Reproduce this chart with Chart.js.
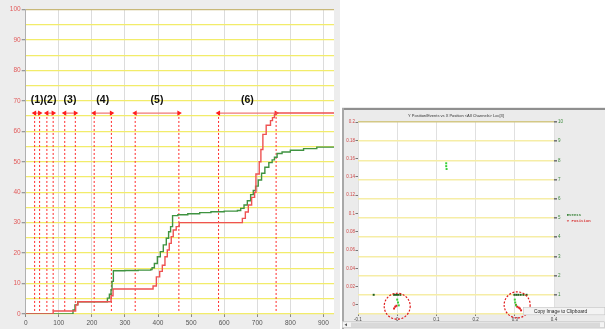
<!DOCTYPE html>
<html><head><meta charset="utf-8">
<script src="https://cdn.jsdelivr.net/npm/chart.js@4.4.1/dist/chart.umd.min.js"></script>
<style>
html,body{margin:0;padding:0;background:#fff;width:605px;height:329px;overflow:hidden}
.box{position:absolute}
</style></head><body>
<div class="box" style="left:0;top:0;width:340px;height:329px"><canvas id="c1" width="340" height="329"></canvas></div>
<div class="box" style="left:342px;top:107px;width:263px;height:222px"><canvas id="c2" width="263" height="222"></canvas></div>
<script>
// ---------- Left chart data (cumulative step curves) ----------
const redX   = [0, 83, 151, 158, 258, 264, 385, 395, 405, 413, 421, 428, 434, 440, 446, 455, 464, 655, 664, 673, 683, 692, 696, 706, 711, 717, 727, 740, 746, 752, 757, 932];
const redY   = [0, 1, 3, 4, 6, 8.2, 9.2, 12.2, 14, 16, 18.8, 21, 23.2, 25.4, 27.6, 28.7, 30, 31.4, 33.5, 35.8, 38.3, 40, 46, 50, 54, 59, 62, 63.5, 64.5, 65.5, 66, 66];
const greenX = [0, 143, 149, 157, 247, 253, 258, 261, 265, 300, 340, 378, 382, 389, 398, 407, 416, 425, 432, 438, 444, 460, 490, 526, 560, 600, 640, 650, 660, 670, 680, 688, 695, 703, 713, 723, 735, 745, 752, 760, 775, 800, 840, 880, 932];
const greenY = [0, 1.3, 3, 4, 5.2, 6.5, 8, 10.7, 14.2, 14.3, 14.4, 14.6, 15.2, 16.6, 18.8, 20.5, 22.7, 24.9, 27, 28.7, 32.3, 32.6, 32.9, 33.3, 33.6, 33.8, 34, 34.7, 35.8, 37.2, 39.2, 40.6, 42, 44, 46.2, 48.2, 49.7, 50.6, 51.5, 52.7, 53.2, 53.8, 54.3, 54.8, 55];
const spanStarts = [27, 64, 118, 207, 331, 583];
const spanEnds   = [42, 83, 150, 259, 463, 757];
const spanLabels = ['(1)', '(2)', '(3)', '(4)', '(5)', '(6)'];
const spanArrowY = 66, spanLineBottom = 1, spanLabelY = 70.3;

// ---------- Right chart data (scatter) ----------
const eventsX = [0.125, 0.125, 0.126, -0.06, -0.008, -0.003, 0.002, 0.008, 0.0, 0.002, 0.004, 0.299, 0.304, 0.309, 0.315, 0.322, 0.33, 0.3, 0.301, 0.303];
const eventsY = [7.85, 7.7, 7.55, 1, 1, 1, 1, 1, 0.75, 0.6, 0.45, 1, 1, 1, 1, 1, 1, 0.75, 0.6, 0.45];
const yposX = [-0.008, -0.005, -0.002, 0.303, 0.306, 0.31, 0.313, 0.316];
const yposY = [-0.004, -0.002, -0.001, 0.0, -0.002, -0.003, -0.004, -0.006];
const circleX = [0, 0.306];
const circleY = [-0.0015, 0];
const rightTitle = 'Y Position/Events vs X Position <All Channels> Loc[3]';
const menuText = 'Copy Image to Clipboard';

Chart.defaults.font.family = '"Liberation Sans", Arial, sans-serif';
const pts = (xs, ys) => xs.map((x, i) => ({x, y: ys[i]}));
const fmt = v => String(+Number(v).toFixed(2));

// ---------- Left chart ----------
const annDatasets = [];
spanStarts.forEach((s, i) => {
  const e = spanEnds[i];
  [s, e].forEach(xv => annDatasets.push({
    data: [{x: xv, y: spanLineBottom}, {x: xv, y: spanArrowY}],
    borderColor: '#ff2b2b', borderWidth: 1, borderDash: [2, 2], pointRadius: 0, order: 2
  }));
  annDatasets.push({
    data: [{x: s, y: spanArrowY}, {x: e, y: spanArrowY}],
    borderColor: '#f07878', borderWidth: 1.3, pointStyle: 'triangle', pointRadius: 3,
    pointRotation: [-90, 90], pointBackgroundColor: '#ff1e1e', pointBorderWidth: 0, order: 1
  });
});

const bgLeft = {
  id: 'bgLeft',
  beforeDraw(chart) {
    const {ctx, chartArea: a, width, height} = chart;
    ctx.save();
    ctx.fillStyle = '#ededed'; ctx.fillRect(0, 0, width, height);
    ctx.fillStyle = '#ffffff'; ctx.fillRect(a.left, a.top, a.right - a.left, a.bottom - a.top);
    ctx.restore();
  },
  afterDatasetsDraw(chart) {
    const {ctx, scales} = chart;
    ctx.save();
    ctx.font = 'bold 10.5px "Liberation Sans", Arial, sans-serif';
    ctx.fillStyle = '#111'; ctx.textAlign = 'center'; ctx.textBaseline = 'middle';
    spanLabels.forEach((t, i) => {
      ctx.fillText(t, scales.x.getPixelForValue((spanStarts[i] + spanEnds[i]) / 2), scales.y.getPixelForValue(spanLabelY));
    });
    ctx.restore();
  }
};

new Chart(document.getElementById('c1'), {
  type: 'line',
  data: {datasets: [
    {label: 'Y Position', data: pts(redX, redY), borderColor: '#ee5252', borderWidth: 1.4, stepped: true, pointRadius: 0, order: 0},
    {label: 'Events', data: pts(greenX, greenY), borderColor: '#3f9341', borderWidth: 1.4, stepped: true, pointRadius: 0, order: 0},
    ...annDatasets
  ]},
  options: {
    responsive: false, animation: false,
    plugins: {legend: {display: false}, tooltip: {enabled: false}},
    layout: {padding: {top: 9.5, right: 6, left: 0, bottom: 0}},
    scales: {
      x: {type: 'linear', min: 0, max: 932,
        ticks: {stepSize: 100, includeBounds: false, font: {size: 6.5}, color: '#555', padding: 2, maxRotation: 0, autoSkip: false},
        grid: {color: '#dcdcdc', tickLength: 3, tickColor: '#888'},
        border: {display: false},
        afterFit(s) { s.height = 15; }},
      y: {min: 0, max: 100,
        ticks: {stepSize: 5, autoSkip: false, callback: v => (v % 10 === 0 ? v : ''), font: {size: 6.5}, color: '#e25a5a', padding: 1},
        grid: {color: c => (c.tick && c.tick.value === 100 ? '#c8b878' : '#f2ec6a'), lineWidth: 1.3, tickLength: 4,
               tickColor: c => (c.tick && c.tick.value % 10 === 0 ? '#999' : 'rgba(0,0,0,0)')},
        border: {color: '#b0b0b0'},
        afterFit(s) { s.width = 25.7; }}
    }
  },
  plugins: [bgLeft]
});

// ---------- Right chart ----------
const deco = {
  id: 'deco',
  beforeDraw(chart) {
    const {ctx, chartArea: a, width, height} = chart;
    ctx.save();
    ctx.fillStyle = '#ebebeb'; ctx.fillRect(0, 0, width, height);
    ctx.fillStyle = '#8f8f8f'; ctx.fillRect(0, 1, width, 2);
    ctx.fillStyle = '#a8a8a8'; ctx.fillRect(0, 1, 2, height);
    ctx.fillStyle = '#ffffff'; ctx.fillRect(a.left, a.top, a.right - a.left, a.bottom - a.top);
    ctx.restore();
  },
  afterDatasetsDraw(chart) {
    const {ctx, scales} = chart;
    ctx.save();
    ctx.strokeStyle = '#e01c1c'; ctx.lineWidth = 1.2; ctx.setLineDash([2, 1.5]);
    circleX.forEach((cx, i) => {
      ctx.beginPath();
      ctx.arc(scales.x.getPixelForValue(cx), scales.y.getPixelForValue(circleY[i]), 13, 0, Math.PI * 2);
      ctx.stroke();
    });
    ctx.restore();
  },
  afterDraw(chart) {
    const {ctx, chartArea: a, width, height} = chart;
    ctx.save();
    // title
    ctx.fillStyle = '#333'; ctx.font = '4px "Liberation Sans", Arial, sans-serif';
    ctx.textAlign = 'center'; ctx.textBaseline = 'middle';
    ctx.fillText(rightTitle, (a.left + a.right) / 2, 9);
    // legend
    ctx.font = 'bold 4px "Liberation Mono", monospace'; ctx.textAlign = 'left';
    const mid = (a.top + a.bottom) / 2;
    ctx.fillStyle = '#2e7d2e'; ctx.fillText(chart.data.datasets[0].label, a.right + 12.7, mid - 3);
    ctx.fillStyle = '#d83030'; ctx.fillText(chart.data.datasets[1].label, a.right + 12.7, mid + 3);
    // context menu
    ctx.fillStyle = '#f3f3f3'; ctx.fillRect(181, 200.3, 82, 7.7);
    ctx.strokeStyle = '#c4c4c4'; ctx.lineWidth = 0.6; ctx.strokeRect(181.3, 200.6, 81.5, 7.2);
    ctx.fillStyle = '#222'; ctx.font = '4.8px "Liberation Sans", Arial, sans-serif';
    ctx.fillText(menuText, 192, 204.3);
    // scrollbar
    ctx.fillStyle = '#f4f4f4'; ctx.fillRect(0, 214.5, width, 6.5);
    ctx.strokeStyle = '#b8b8b8'; ctx.strokeRect(0.5, 214.8, width - 1, 6);
    ctx.fillStyle = '#d9d9d9'; ctx.fillRect(9, 215.5, width - 14, 4.6);
    ctx.fillStyle = '#555'; ctx.beginPath(); ctx.moveTo(2.5, 217.8); ctx.lineTo(5, 216.3); ctx.lineTo(5, 219.3); ctx.fill();
    ctx.restore();
  }
};

new Chart(document.getElementById('c2'), {
  type: 'scatter',
  data: {datasets: [
    {label: 'Events', data: pts(eventsX, eventsY), yAxisID: 'y2', pointStyle: 'rect', pointRadius: 1.4, borderWidth: 0,
     backgroundColor: c => (c.raw && Number.isInteger(c.raw.y) ? '#1d5e1d' : '#35cf35')},
    {label: 'Y Position', data: pts(yposX, yposY), yAxisID: 'y', pointStyle: 'rect', pointRadius: 1.4, borderWidth: 0, backgroundColor: '#e02020'}
  ]},
  options: {
    responsive: false, animation: false,
    plugins: {legend: {display: false}, tooltip: {enabled: false}},
    layout: {padding: {top: 15, left: 0, right: 0, bottom: 0}},
    scales: {
      x: {type: 'linear', min: -0.1, max: 0.4,
        ticks: {stepSize: 0.1, callback: fmt, font: {size: 4.5}, color: '#444', padding: 1, maxRotation: 0, autoSkip: false},
        grid: {color: '#e0e0e0', tickLength: 2, tickColor: '#777'},
        border: {display: false},
        afterFit(s) { s.height = 15; }},
      y: {position: 'left', min: -0.01, max: 0.2,
        ticks: {stepSize: 0.02, includeBounds: false, callback: fmt, font: {size: 4.5}, color: '#d04848', padding: 0.5, autoSkip: false},
        grid: {drawOnChartArea: false, tickLength: 2.5, tickColor: '#777'},
        border: {display: false},
        afterFit(s) { s.width = 16; }},
      y2: {position: 'right', min: 0, max: 10,
        ticks: {stepSize: 1, font: {size: 4.5}, color: '#3a8a3a', padding: 1, autoSkip: false},
        grid: {color: c => (c.tick && c.tick.value === 10 ? '#d3c886' : '#f6eda6'), lineWidth: 1.6, tickLength: 3, tickColor: '#777'},
        border: {display: false},
        afterFit(s) { s.width = 51; }}
    }
  },
  plugins: [deco]
});
</script>
</body></html>
